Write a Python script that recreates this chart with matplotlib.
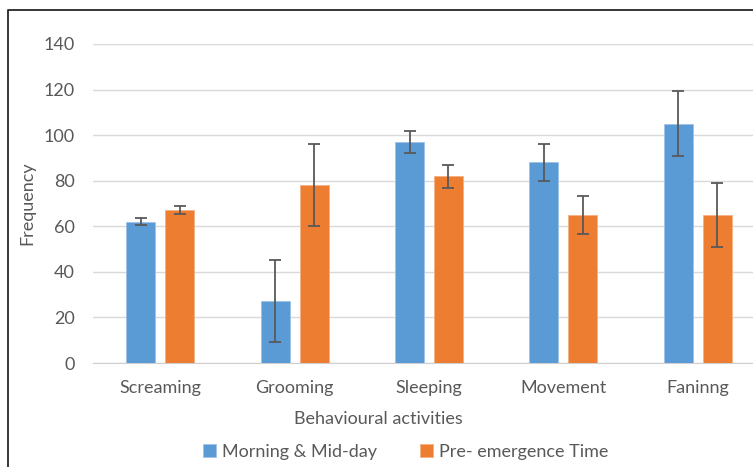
import numpy as np
import matplotlib.pyplot as plt
from matplotlib.lines import Line2D

plt.rcParams['font.family'] = ['Lato', 'DejaVu Sans']

# data
activities = ["Screaming", "Grooming", "Sleeping", "Movement", "Faninng"]
morning = [62, 27, 97, 88, 105]
morning_err = [1.5, 18, 5, 8.2, 14.3]
pre_emergence = [67, 78, 82, 65, 65]
pre_emergence_err = [1.7, 18, 5, 8.2, 14.2]
yticks = [0, 20, 40, 60, 80, 100, 120, 140]

W, H = 753, 467
fig = plt.figure(figsize=(W / 100, H / 100), dpi=100)

# plot area in pixels: left 93, right ~765 (runs past the edge), y0 at 363, y140 at 44
left, right, top, bottom = 93, 765, 44, 363
ax = fig.add_axes([left / W, 1 - bottom / H, (right - left) / W, (bottom - top) / H])

x = np.arange(len(activities))
bw = 0.217
off = 0.145
grey = "#595959"
fs = 13

ax.bar(x - off, morning, bw, color="#5B9BD5", edgecolor="#9DC3E6", linewidth=0.6,
       label="Morning & Mid-day", zorder=3)
ax.bar(x + off, pre_emergence, bw, color="#ED7D31", edgecolor="#F4B183", linewidth=0.6,
       label="Pre- emergence Time", zorder=3)
ax.errorbar(x - off, morning, yerr=morning_err, fmt="none", ecolor=grey,
            elinewidth=1.3, capsize=4, capthick=1.3, zorder=4)
ax.errorbar(x + off, pre_emergence, yerr=pre_emergence_err, fmt="none", ecolor=grey,
            elinewidth=1.3, capsize=4, capthick=1.3, zorder=4)

ax.set_xlim(-0.5, len(activities) - 0.5)
ax.set_ylim(0, 140)
ax.set_yticks(yticks)
ax.set_xticks(x)
ax.set_xticklabels(activities)
ax.grid(axis="y", color="#d9d9d9", linewidth=1, zorder=0)
ax.set_axisbelow(True)
for s in ["top", "right", "left"]:
    ax.spines[s].set_visible(False)
ax.spines["bottom"].set_color("#d0d0d0")
ax.tick_params(axis="both", length=0, colors=grey, labelsize=fs)
ax.tick_params(axis="x", pad=12)
ax.tick_params(axis="y", pad=13)

pw, ph = right - left, bottom - top
ax.set_ylabel("Frequency", color=grey, fontsize=fs)
ax.yaxis.set_label_coords((35 - left) / pw, 0.5)
ax.set_xlabel("Behavioural activities", color=grey, fontsize=fs)
ax.xaxis.set_label_coords((378 - left) / pw, -(411 - bottom) / ph)

leg = fig.legend(loc="center", bbox_to_anchor=(406 / W, 1 - 452 / H), ncol=2, frameon=False,
                 fontsize=fs, handlelength=0.7, handleheight=0.7, columnspacing=2.4,
                 handletextpad=0.35)
for t in leg.get_texts():
    t.set_color(grey)

# chart border (cut off on the right and bottom)
fig.add_artist(Line2D([8 / W, 8 / W, 1], [0, 1 - 10 / H, 1 - 10 / H],
                      transform=fig.transFigure, color="#262626", linewidth=1.3))

fig.savefig("out.png", dpi=100)
